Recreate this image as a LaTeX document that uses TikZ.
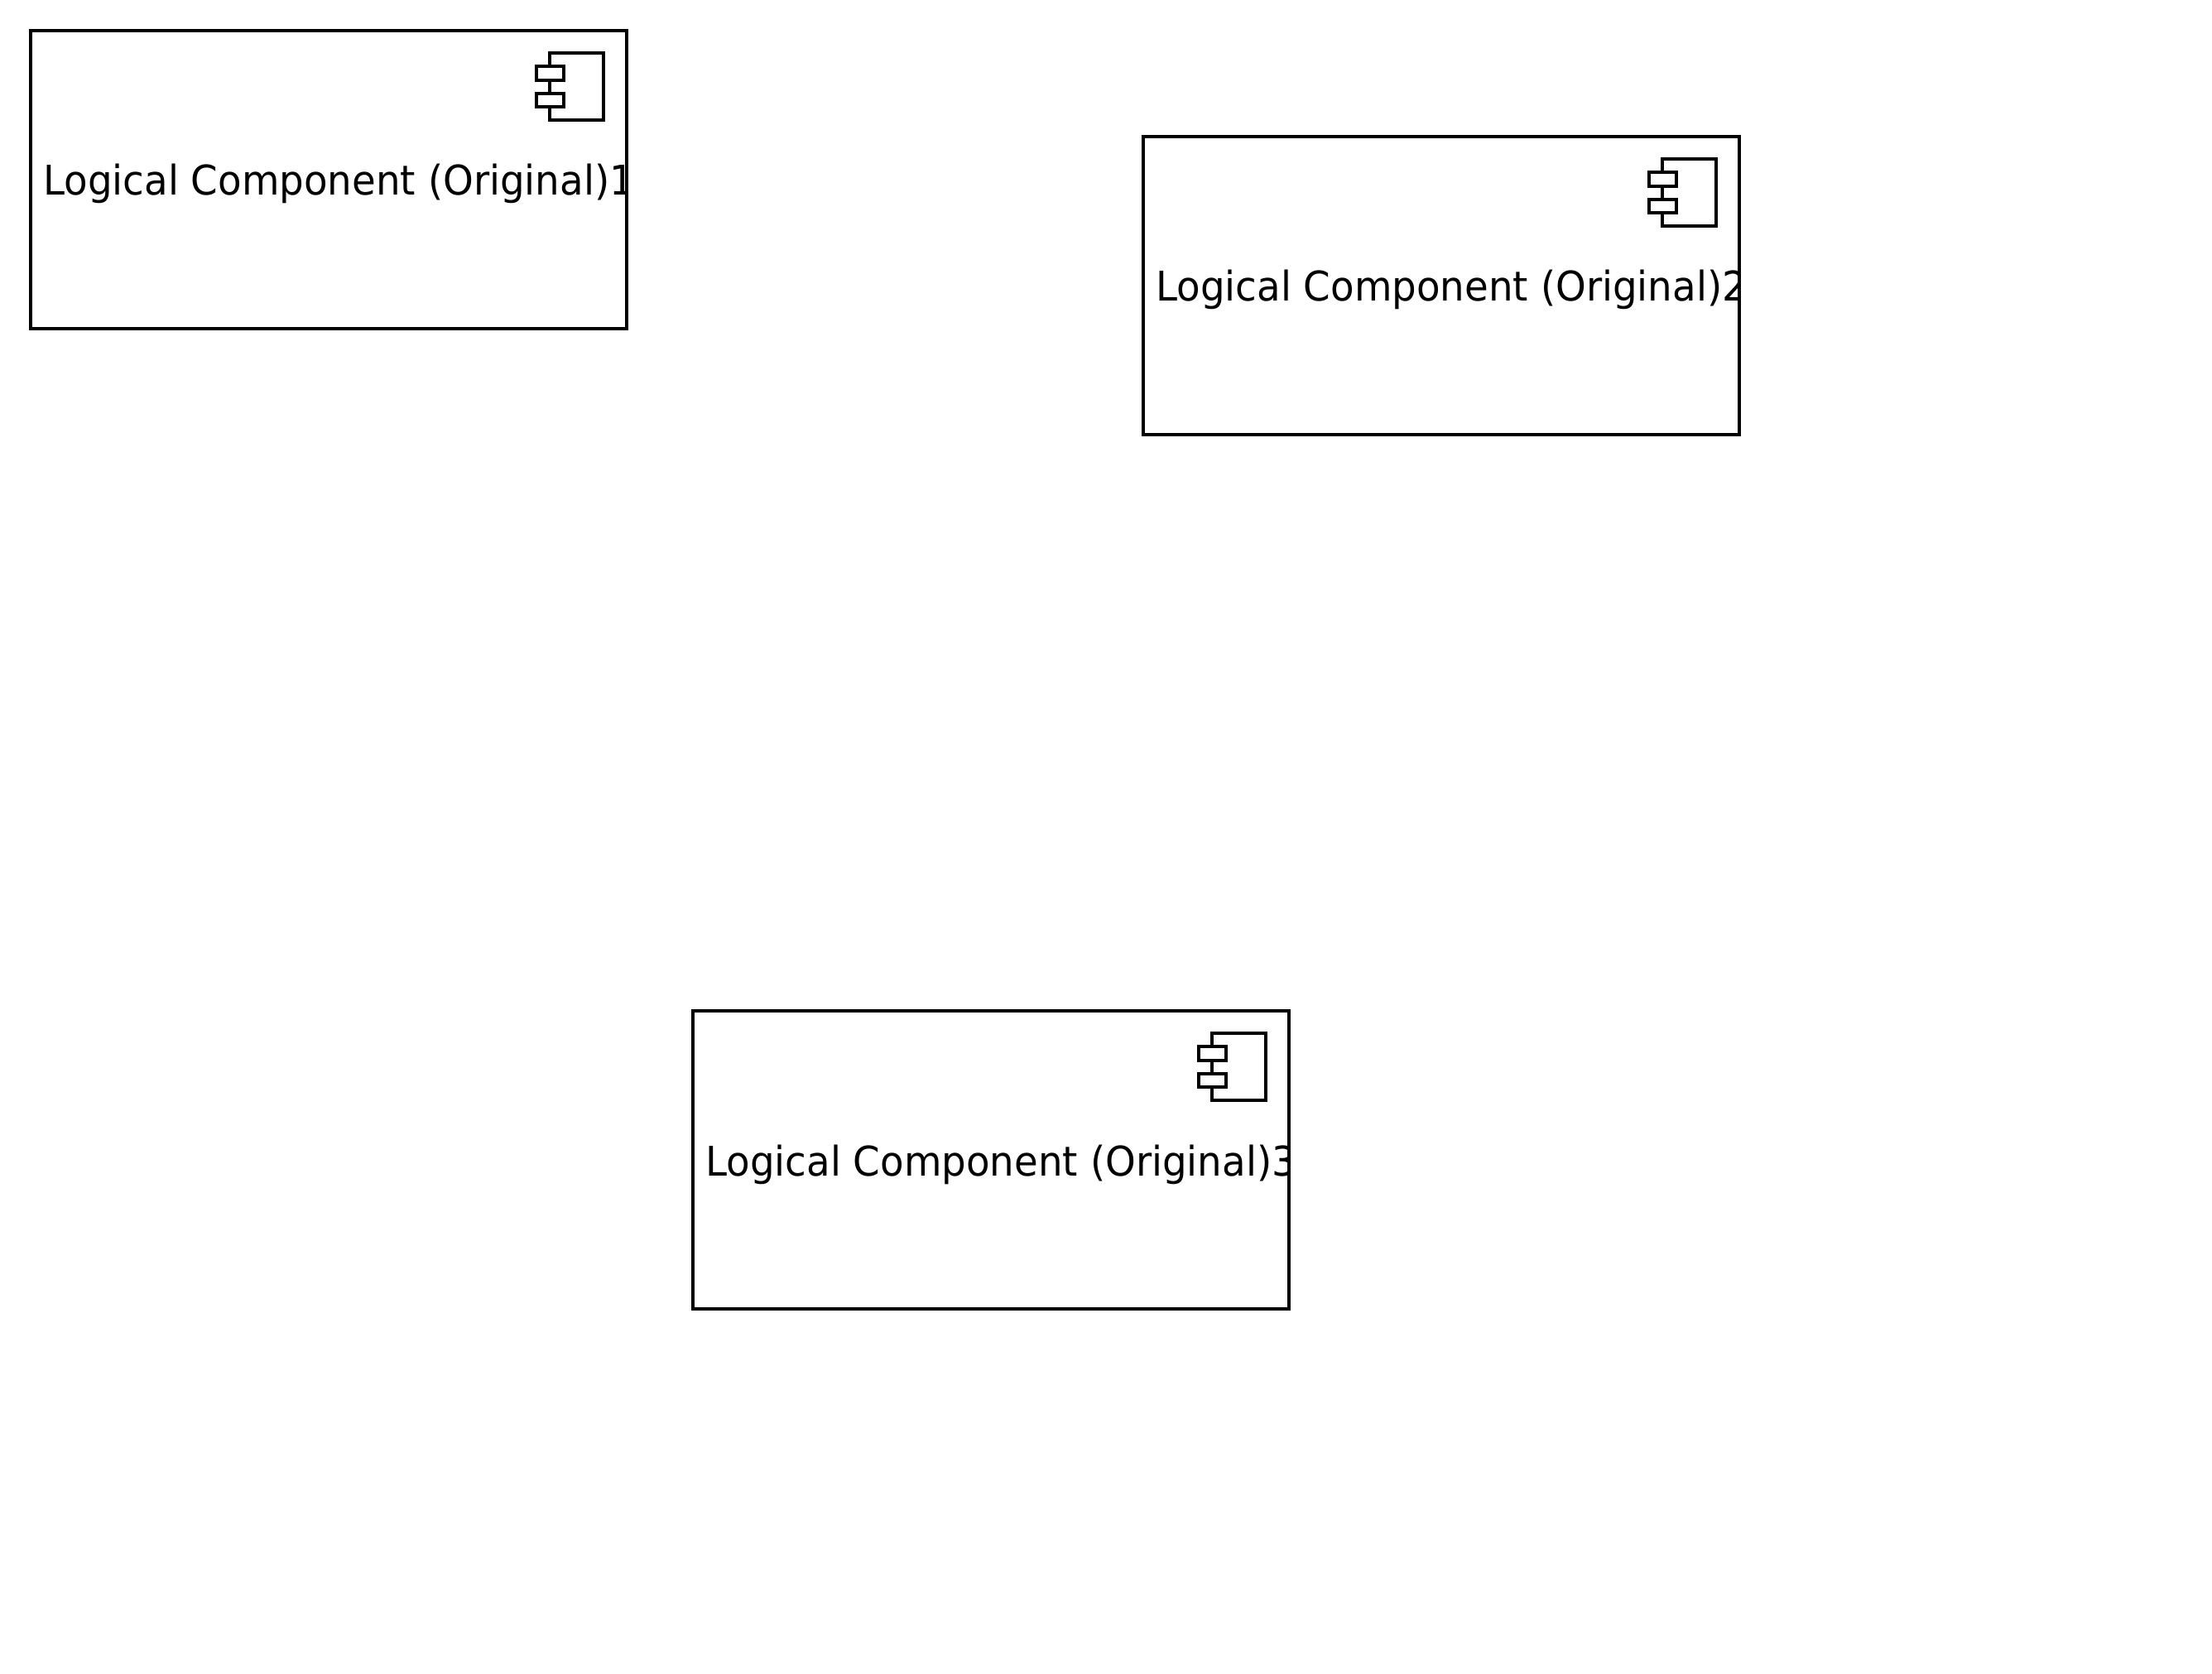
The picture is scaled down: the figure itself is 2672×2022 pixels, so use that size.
\documentclass[tikz,border=0pt]{standalone}
\usepackage{fontspec}
\setmainfont{DejaVu Sans}[FakeStretch=0.946]
\begin{document}
\begin{tikzpicture}[x=0.5pt,y=-0.5pt,
  compbox/.style={draw=black,line width=1.9pt,fill=white,minimum width=360pt,minimum height=180pt,inner sep=0pt,anchor=north west},
  complabel/.style={anchor=base west,inner sep=0pt,font=\fontsize{24.7pt}{28pt}\selectfont,text=black},
  iconline/.style={draw=black,line width=1.9pt,fill=white}]
\useasboundingbox (0,0) rectangle (2672,2022);
\newcommand{\compicon}[1]{%
  \draw[iconline] ([xshift=-47.25pt,yshift=-14.5pt]#1.north east) rectangle ([xshift=-14.75pt,yshift=-55pt]#1.north east);
  \draw[iconline] ([xshift=-55.25pt,yshift=-22.5pt]#1.north east) rectangle ([xshift=-38.75pt,yshift=-31pt]#1.north east);
  \draw[iconline] ([xshift=-55.25pt,yshift=-39pt]#1.north east) rectangle ([xshift=-38.75pt,yshift=-47pt]#1.north east);
}
\newcommand{\complab}[3]{%
  \begin{scope}
    \clip (#1.north west) rectangle (#1.south east);
    \node[complabel] (#2) at ([xshift=8.4pt,yshift=81.4pt]#1.south west) {#3};
  \end{scope}
}
\node[compbox] (c1) at (35,35) {};
\node[compbox] (c2) at (1379,163) {};
\node[compbox] (c3) at (835,1219) {};
\compicon{c1}
\compicon{c2}
\compicon{c3}
\complab{c1}{t1}{Logical Component (Original)1}
\complab{c2}{t2}{Logical Component (Original)2}
\complab{c3}{t3}{Logical Component (Original)3}
\end{tikzpicture}
\end{document}
